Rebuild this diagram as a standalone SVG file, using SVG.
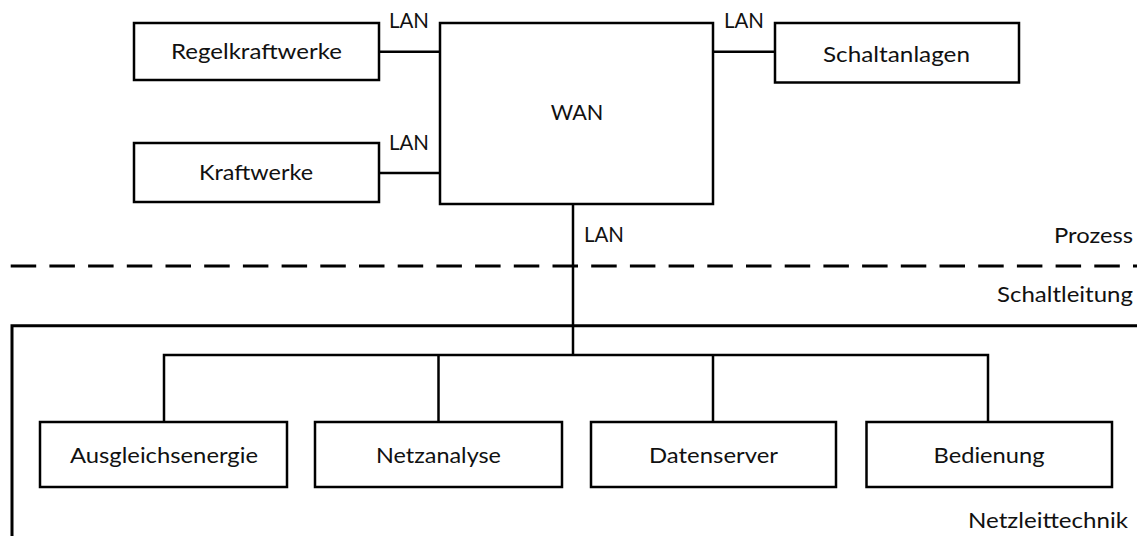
<svg xmlns="http://www.w3.org/2000/svg" width="1137" height="536" viewBox="0 0 1137 536">
<style>
  .box { fill: #ffffff; stroke: #000000; stroke-width: 2.5; }
  .ln { fill: none; stroke: #000000; stroke-width: 2.5; }
  .t { font-family: Lato, "Liberation Sans", sans-serif; font-size: 20.5px; fill: #111111; }
  .c { text-anchor: middle; }
  .e { text-anchor: end; }
</style>
<rect width="1137" height="536" fill="#ffffff"/>

<g id="zones">
  <line x1="10.7" y1="266" x2="1137" y2="266" stroke="#000" stroke-width="3" stroke-dasharray="25.5 13.2"/>
  <path d="M12 536 V325.7 H1137" fill="none" stroke="#000" stroke-width="3"/>
  <text class="t e" x="1133" y="242.5" textLength="79" lengthAdjust="spacingAndGlyphs">Prozess</text>
  <text class="t e" x="1133" y="301.5" textLength="136" lengthAdjust="spacingAndGlyphs">Schaltleitung</text>
  <text class="t e" x="1128" y="528.3" textLength="160" lengthAdjust="spacingAndGlyphs">Netzleittechnik</text>
</g>

<g id="connectors">
  <line class="ln" x1="379" y1="51.7" x2="440" y2="51.7"/>
  <line class="ln" x1="379" y1="173" x2="440" y2="173"/>
  <line class="ln" x1="713" y1="51.7" x2="775" y2="51.7"/>
  <line class="ln" x1="573" y1="204" x2="573" y2="355"/>
  <path class="ln" d="M164 422 V355 H988 V422"/>
  <line class="ln" x1="438.5" y1="355" x2="438.5" y2="422"/>
  <line class="ln" x1="713" y1="355" x2="713" y2="422"/>
  <text class="t" x="389" y="28.3" textLength="40" lengthAdjust="spacingAndGlyphs">LAN</text>
  <text class="t" x="389" y="150" textLength="40" lengthAdjust="spacingAndGlyphs">LAN</text>
  <text class="t" x="724" y="28.3" textLength="40" lengthAdjust="spacingAndGlyphs">LAN</text>
  <text class="t" x="584" y="241.7" textLength="40" lengthAdjust="spacingAndGlyphs">LAN</text>
</g>

<g id="regelkraftwerke">
  <rect class="box" x="134" y="23" width="245" height="57"/>
  <text class="t c" x="256.5" y="59.3" textLength="171" lengthAdjust="spacingAndGlyphs">Regelkraftwerke</text>
</g>
<g id="kraftwerke">
  <rect class="box" x="134" y="143" width="245" height="59"/>
  <text class="t c" x="256" y="180" textLength="114" lengthAdjust="spacingAndGlyphs">Kraftwerke</text>
</g>
<g id="wan">
  <rect class="box" x="440" y="23" width="273" height="181"/>
  <text class="t c" x="577" y="120" textLength="52.6" lengthAdjust="spacingAndGlyphs">WAN</text>
</g>
<g id="schaltanlagen">
  <rect class="box" x="775" y="23" width="244" height="59.5"/>
  <text class="t c" x="896.5" y="61.7" textLength="147" lengthAdjust="spacingAndGlyphs">Schaltanlagen</text>
</g>
<g id="ausgleichsenergie">
  <rect class="box" x="40" y="422" width="247" height="65"/>
  <text class="t c" x="164" y="463" textLength="188" lengthAdjust="spacingAndGlyphs">Ausgleichsenergie</text>
</g>
<g id="netzanalyse">
  <rect class="box" x="315" y="422" width="247" height="65"/>
  <text class="t c" x="438.5" y="463" textLength="125" lengthAdjust="spacingAndGlyphs">Netzanalyse</text>
</g>
<g id="datenserver">
  <rect class="box" x="591" y="422" width="245" height="65"/>
  <text class="t c" x="713.5" y="463" textLength="129" lengthAdjust="spacingAndGlyphs">Datenserver</text>
</g>
<g id="bedienung">
  <rect class="box" x="866.5" y="422" width="245.5" height="65"/>
  <text class="t c" x="989" y="463" textLength="111" lengthAdjust="spacingAndGlyphs">Bedienung</text>
</g>
</svg>
